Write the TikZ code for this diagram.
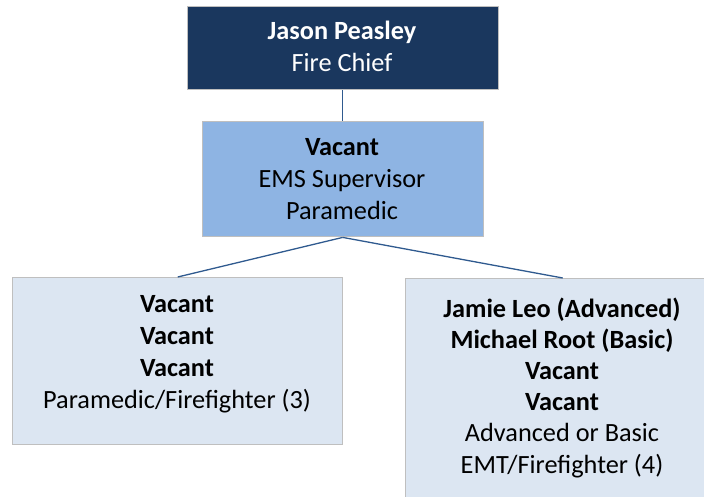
\documentclass[tikz,border=0pt]{standalone}
\usepackage{fontspec}
\setmainfont{Carlito}
\definecolor{navy}{HTML}{1A375E}
\definecolor{midblue}{HTML}{8EB4E3}
\definecolor{paleblue}{HTML}{DCE6F2}
\definecolor{edgegray}{HTML}{BFBFBF}
\definecolor{linkblue}{HTML}{2F5A8F}
\begin{document}
\begin{tikzpicture}[x=1pt,y=-1pt,
  box/.style={draw=edgegray, line width=1.4pt, rectangle, anchor=north west, inner sep=0},
  txt/.style={align=center, inner sep=0, anchor=base, font=\fontsize{26.3}{32}\selectfont},
  link/.style={draw=linkblue, line width=1.3pt}]
\useasboundingbox (0,0) rectangle (704,497);
\clip (0,0) rectangle (704,497);
\node[box, fill=navy, minimum width=311pt, minimum height=83pt] (T) at (186.5,6) {};
\node[box, fill=midblue, minimum width=281pt, minimum height=115pt] (M) at (201.5,121) {};
\node[box, fill=paleblue, minimum width=330pt, minimum height=167pt] (L) at (12,277) {};
\node[box, fill=paleblue, minimum width=314pt, minimum height=240pt] (R) at (405,278) {};
\draw[link] (T.south) -- (M.north);
\draw[link] (M.south) -- (L.north);
\draw[link] (M.south) -- (R.north);
\node[txt, text=white] (Tt) at (342,72) {\textbf{Jason Peasley}\\Fire Chief};
\node[txt] (Mt) at (342,219) {\textbf{Vacant}\\EMS Supervisor\\Paramedic};
\node[txt] (Lt) at (177,408) {\textbf{Vacant}\\\textbf{Vacant}\\\textbf{Vacant}\\Paramedic/Firefighter (3)};
\node[txt, font=\fontsize{26.3}{31.2}\selectfont] (Rt) at (562,473) {\textbf{Jamie Leo (Advanced)}\\\textbf{Michael Root (Basic)}\\\textbf{Vacant}\\\textbf{Vacant}\\Advanced or Basic\\EMT/Firefighter (4)};
\end{tikzpicture}
\end{document}
